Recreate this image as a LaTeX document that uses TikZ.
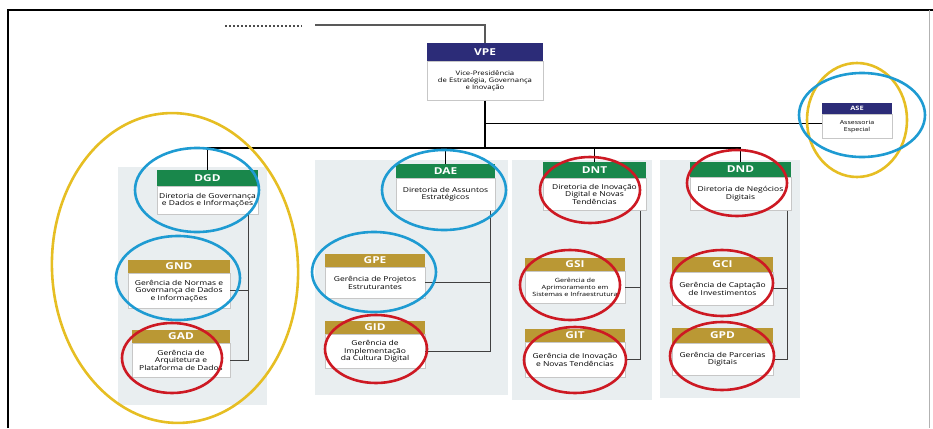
\documentclass[tikz,border=0pt]{standalone}
\usepackage{fontspec}
\newfontfamily\boxfont[FakeStretch=1.25]{Open Sans}
\usetikzlibrary{positioning}

\definecolor{vpenavy}{RGB}{44,44,120}
\definecolor{dirgreen}{RGB}{25,135,75}
\definecolor{gergold}{RGB}{186,152,52}
\definecolor{ringyellow}{RGB}{230,190,35}
\definecolor{ringblue}{RGB}{30,155,210}
\definecolor{ringred}{RGB}{205,25,35}
\definecolor{panelgray}{RGB}{233,238,240}

\tikzset{
	hdr/.style = {fill=#1, text=white, inner sep=0pt, minimum width=100pt,
		minimum height=14pt, font=\boxfont\bfseries\fontsize{9.5}{10}\selectfont},
	bdy/.style = {draw=black!22, fill=white, inner sep=1pt, align=center,
		minimum width=100pt, font=\boxfont\fontsize{6.8}{7.6}\selectfont},
	busline/.style = {line width=1.6pt, black},
	sub/.style = {line width=0.9pt, black!75},
	ring/.style = {draw=#1, line width=2.6pt}
}

\begin{document}
\begin{tikzpicture}[x=1pt, y=-1pt]
	\useasboundingbox (0,0) rectangle (933,428);
	
	% frame
	\draw[line width=2.5pt] (8,428) -- (8,10) -- (933,10);
	\draw[black!30, line width=0.6pt] (929,10) -- (929,428);
	
	% light panels behind the columns
	\fill[panelgray] (118,167) rectangle (267,405);
	\fill[panelgray] (315,160) rectangle (508,395);
	\fill[panelgray] (512,160) rectangle (652,400);
	\fill[panelgray] (660,160) rectangle (800,398);
	
	% top
	\node[hdr=vpenavy, minimum width=116pt, minimum height=18pt] (vpe) at (485,52) {VPE};
	\node[bdy, minimum width=116pt, minimum height=39pt, below=0pt of vpe,
		font=\boxfont\fontsize{6.2}{7.2}\selectfont] (vpeb)
		{Vice-Presidência\\de Estratégia, Governança\\e Inovação};
	
	\node[hdr=vpenavy, minimum width=70pt, minimum height=11pt,
		font=\boxfont\bfseries\fontsize{6}{6.5}\selectfont] (ase) at (857,108.5) {ASE};
	\node[bdy, minimum width=70pt, minimum height=24pt, below=0pt of ase,
		font=\boxfont\fontsize{5.6}{6.6}\selectfont] (aseb) {Assessoria\\Especial};
	
	% diretorias
	\node[hdr=dirgreen, minimum width=101pt, minimum height=16pt] (dgd) at (207.5,178) {DGD};
	\node[bdy, minimum width=101pt, minimum height=28pt, below=0pt of dgd] (dgdb)
		{Diretoria de Governança\\e Dados e Informações};
	
	\node[hdr=dirgreen, minimum width=99pt] (dae) at (445.5,171) {DAE};
	\node[bdy, minimum width=99pt, minimum height=32pt, below=0pt of dae] (daeb)
		{Diretoria de Assuntos\\Estratégicos};
	
	\node[hdr=dirgreen, minimum width=103pt, minimum height=16pt] (dnt) at (594.5,170) {DNT};
	\node[bdy, minimum width=103pt, minimum height=32pt, below=0pt of dnt] (dntb)
		{Diretoria de Inovação\\Digital e Novas\\Tendências};
	
	\node[hdr=dirgreen, minimum width=101pt, minimum height=15pt] (dnd) at (740.5,169.5) {DND};
	\node[bdy, minimum width=101pt, minimum height=33pt, below=0pt of dnd] (dndb)
		{Diretoria de Negócios\\Digitais};
	
	% gerencias
	\node[hdr=gergold, minimum width=102pt, minimum height=13pt] (gnd) at (179,266.5) {GND};
	\node[bdy, minimum width=102pt, minimum height=35pt, below=0pt of gnd] (gndb)
		{Gerência de Normas e\\Governança de Dados\\e Informações};
	
	\node[hdr=gergold, minimum width=98pt, minimum height=13pt] (gad) at (181,336.5) {GAD};
	\node[bdy, minimum width=98pt, minimum height=34pt, below=0pt of gad] (gadb)
		{Gerência de\\Arquitetura e\\Plataforma de Dados};
	
	\node[hdr=gergold, minimum height=13pt] (gpe) at (375,260.5) {GPE};
	\node[bdy, minimum height=31pt, below=0pt of gpe] (gpeb)
		{Gerência de Projetos\\Estruturantes};
	
	\node[hdr=gergold, minimum height=13pt] (gid) at (375,327.5) {GID};
	\node[bdy, minimum height=34pt, below=0pt of gid] (gidb)
		{Gerência de\\Implementação\\da Cultura Digital};
	
	\node[hdr=gergold, minimum height=13pt] (gsi) at (575,264.5) {GSI};
	\node[bdy, minimum height=32pt, below=0pt of gsi,
		font=\boxfont\fontsize{5.8}{7}\selectfont] (gsib)
		{Gerência de\\Aprimoramento em\\Sistemas e Infraestrutura};
	
	\node[hdr=gergold, minimum height=13pt] (git) at (575,335.5) {GIT};
	\node[bdy, minimum height=35pt, below=0pt of git] (gitb)
		{Gerência de Inovação\\e Novas Tendências};
	
	\node[hdr=gergold, minimum width=101pt, minimum height=15pt] (gci) at (722.5,264.5) {GCI};
	\node[bdy, minimum width=101pt, minimum height=33pt, below=0pt of gci] (gcib)
		{Gerência de Captação\\de Investimentos};
	
	\node[hdr=gergold, minimum width=101pt, minimum height=15pt] (gpd) at (722.5,335.5) {GPD};
	\node[bdy, minimum width=101pt, minimum height=32pt, below=0pt of gpd] (gpdb)
		{Gerência de Parcerias\\Digitais};
	
	% feed from above
	\draw[dotted, line width=2pt, black!70] (225,26) -- (302,26);
	\coordinate (feed) at (315,25);
	\draw[line width=1.2pt, black!65] (feed) -| (vpe.north);
	
	% main lines
	\coordinate (busy) at (0,148);
	\draw[busline] (vpeb.south) -- (vpeb.south |- busy);
	\draw[busline] (vpeb.south |- aseb.west) ++(0,-3) -- ([yshift=3pt]aseb.west);
	\draw[busline] (dgd.north) |- (dnd.north |- busy) -- (dnd.north);
	\draw[busline] (dae.north) -- (dae.north |- busy);
	\draw[busline] (dnt.north) -- (dnt.north |- busy);
	
	% branches
	\path ([xshift=-10pt]dgdb.south east) coordinate (dgdv);
	\draw[sub] (dgdv) |- (gadb.east);
	\draw[sub] (gndb.east) -- (gndb.east -| dgdv);
	
	\path ([xshift=-5pt]daeb.south east) coordinate (daev);
	\draw[sub] (daev) |- (gidb.east);
	\draw[sub] (gpeb.east) -- (gpeb.east -| daev);
	
	\path ([xshift=-6pt]dntb.south east) coordinate (dntv);
	\draw[sub] (dntv) |- (gitb.east);
	\draw[sub] (gsib.east) -- (gsib.east -| dntv);
	
	\path ([xshift=-4pt]dndb.south east) coordinate (dndv);
	\draw[sub] (dndv) |- (gpdb.east);
	\draw[sub] (gcib.east) -- (gcib.east -| dndv);
	
	% marks
	\draw[ring=ringyellow, rotate around={3:(175,268)}] (175,268) ellipse [x radius=123pt, y radius=155pt];
	\draw[ring=ringyellow] (857,120) ellipse [x radius=50pt, y radius=57pt];
	\draw[ring=ringblue] (862,115) ellipse [x radius=63pt, y radius=42pt];
	
	\draw[ring=ringblue] (197,190) ellipse [x radius=62pt, y radius=42pt];
	\draw[ring=ringblue] (178,278) ellipse [x radius=62pt, y radius=42pt];
	\draw[ring=ringblue] (444,190) ellipse [x radius=62pt, y radius=40pt];
	\draw[ring=ringblue] (374,272) ellipse [x radius=62pt, y radius=40pt];
	
	\draw[ring=ringred] (172,358) ellipse [x radius=50pt, y radius=35pt];
	\draw[ring=ringred] (376,349) ellipse [x radius=51pt, y radius=34pt];
	\draw[ring=ringred] (590,190) ellipse [x radius=50pt, y radius=33pt];
	\draw[ring=ringred] (570,285) ellipse [x radius=50pt, y radius=35pt];
	\draw[ring=ringred] (575,360) ellipse [x radius=51pt, y radius=33pt];
	\draw[ring=ringred] (737,183) ellipse [x radius=50pt, y radius=33pt];
	\draw[ring=ringred] (722,283) ellipse [x radius=51pt, y radius=33pt];
	\draw[ring=ringred] (722,356) ellipse [x radius=52pt, y radius=34pt];
	
\end{tikzpicture}
\end{document}
